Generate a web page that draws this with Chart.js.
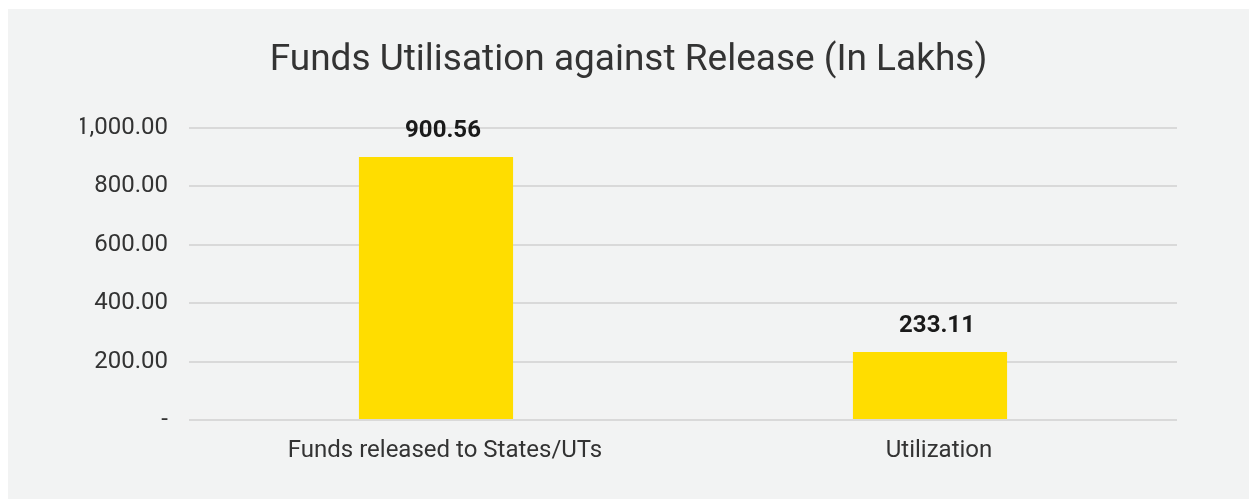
<!DOCTYPE html>
<html lang="en">
<head>
<meta charset="UTF-8">
<title>Funds Utilisation against Release</title>
<script src="https://cdn.jsdelivr.net/npm/chart.js"></script>
<style>
    html, body {
        margin: 0;
        padding: 0;
        background: #fff;
    }
    #panel {
        position: absolute;
        left: 8px;
        top: 9px;
        width: 1241px;
        height: 490px;
        background: #f2f3f3;
    }
</style>
</head>
<body>

<div id="panel">
    <canvas id="fundsChart" width="1241" height="490"></canvas>
</div>

<script>
// chart data
var categories = ['Funds released to States/UTs', 'Utilization'];
var amounts = [900.56, 233.11];

var barColor = '#ffdd00';
var textColor = '#333333';

function formatAmount(v) {
    if (v === 0) return '-';
    return v.toLocaleString('en-US', { minimumFractionDigits: 2, maximumFractionDigits: 2 });
}

// value labels above the bars (sit a little right of bar centre, like the original)
var valueLabels = {
    id: 'valueLabels',
    afterDatasetsDraw: function (chart) {
        var ctx = chart.ctx;
        var meta = chart.getDatasetMeta(0);
        ctx.save();
        ctx.font = 'bold 24px Roboto';
        ctx.fillStyle = '#1a1a1a';
        ctx.textAlign = 'center';
        ctx.textBaseline = 'middle';
        meta.data.forEach(function (bar, i) {
            ctx.fillText(formatAmount(amounts[i]), bar.x + 7, bar.y - 26);
        });
        ctx.restore();
    }
};

var ctx = document.getElementById('fundsChart').getContext('2d');
var fundsChart = new Chart(ctx, {
    type: 'bar',
    data: {
        labels: categories,
        datasets: [{
            data: amounts,
            backgroundColor: barColor,
            borderWidth: 0,
            barPercentage: 0.312,
            categoryPercentage: 1
        }]
    },
    options: {
        responsive: false,
        animation: false,
        layout: {
            padding: { left: 72, right: 72, top: 0, bottom: 0 }
        },
        plugins: {
            legend: { display: false },
            tooltip: { enabled: false },
            title: {
                display: true,
                text: 'Funds Utilisation against Release (In Lakhs)',
                color: textColor,
                font: { family: 'Roboto', size: 37, weight: 'normal' },
                padding: { top: 29.8, bottom: 44.8 }
            }
        },
        scales: {
            x: {
                grid: { display: false },
                border: { display: false },
                ticks: {
                    color: textColor,
                    font: { family: 'Roboto', size: 24 },
                    padding: 9,
                    labelOffset: 9
                },
                afterFit: function (scale) {
                    scale.height = 79;
                }
            },
            y: {
                min: 0,
                max: 1000,
                grid: { color: '#d9d9d9', lineWidth: 2, drawTicks: false },
                border: { display: false },
                ticks: {
                    stepSize: 200,
                    color: textColor,
                    font: { family: 'Roboto', size: 24 },
                    padding: 21,
                    callback: function (value) {
                        return formatAmount(value);
                    }
                },
                afterFit: function (scale) {
                    scale.width = 109;
                }
            }
        }
    },
    plugins: [valueLabels]
});
</script>

</body>
</html>
